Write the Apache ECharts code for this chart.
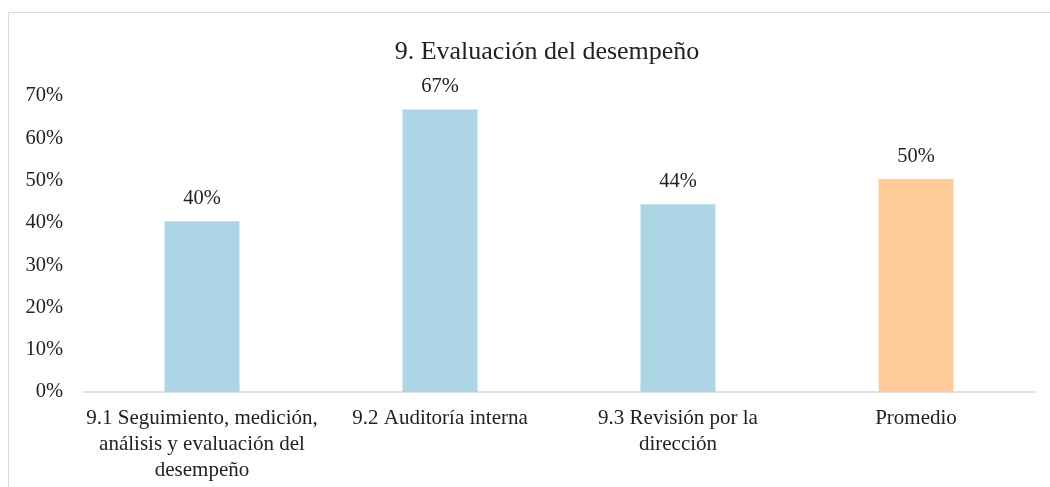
<!DOCTYPE html>
<html>
<head>
<meta charset="utf-8">
<script src="https://cdn.jsdelivr.net/npm/echarts@6/dist/echarts.min.js"></script>
<style>
html, body { margin: 0; padding: 0; background: #fff; overflow: hidden; }
#frame {
    position: absolute; left: 8px; top: 12px;
    width: 1100px; height: 520px;
    border: 1px solid #d9d9d9;
}
#chart { position: absolute; left: 0; top: 0; width: 1050px; height: 487px; }
</style>
</head>
<body>
<div id="frame"></div>
<div id="chart"></div>
<script>
const categories = [
    '9.1 Seguimiento, medición,\nanálisis y evaluación del\ndesempeño',
    '9.2 Auditoría interna',
    '9.3 Revisión por la\ndirección',
    'Promedio'
]
const values = [40.4, 66.8, 44.4, 50.4]
const barColors = ['#ADD5E6', '#ADD5E6', '#ADD5E6', '#FFCC99']
const yTicks = [0, 10, 20, 30, 40, 50, 60, 70]

const font = '"Liberation Serif", "Times New Roman", serif'
const myChart = echarts.init(document.getElementById('chart'))

const option = {
    animation: false,
    title: {
        text: '9. Evaluación del desempeño',
        left: 542,
        textAlign: 'center',
        top: 34,
        textStyle: { fontFamily: font, fontSize: 26, fontWeight: 'normal', color: '#222' }
    },
    grid: { left: 83, right: 15, top: 96, bottom: 95 },
    xAxis: {
        type: 'category',
        data: categories,
        axisTick: { show: false },
        axisLine: { lineStyle: { color: '#d9d9d9', width: 1.5 } },
        axisLabel: {
            interval: 0,
            margin: 13,
            fontFamily: font,
            fontSize: 21,
            lineHeight: 26,
            color: '#222'
        }
    },
    yAxis: {
        type: 'value',
        min: yTicks[0],
        max: yTicks[yTicks.length - 1],
        interval: 10,
        splitLine: { show: false },
        axisLine: { show: false },
        axisTick: { show: false },
        axisLabel: {
            margin: 20,
            fontFamily: font,
            fontSize: 20.5,
            color: '#222',
            formatter: v => v + '%'
        }
    },
    series: [
        {
            type: 'bar',
            barWidth: 75,
            data: values.map((v, i) => ({ value: v, itemStyle: { color: barColors[i] } })),
            label: {
                show: true,
                position: 'top',
                distance: 12,
                fontFamily: font,
                fontSize: 20.5,
                color: '#222',
                formatter: p => Math.round(p.value) + '%'
            }
        }
    ]
}

myChart.setOption(option)
</script>
</body>
</html>
